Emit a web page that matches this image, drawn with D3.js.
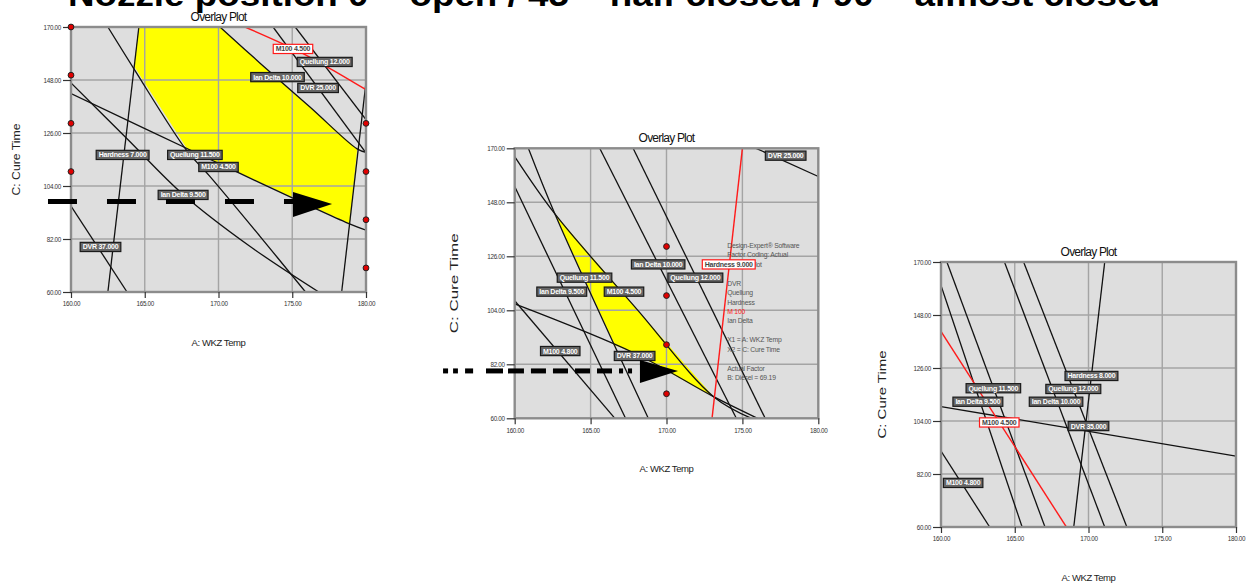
<!DOCTYPE html>
<html><head><meta charset="utf-8">
<script src="https://cdn.jsdelivr.net/npm/d3@7"></script>
<style>body{margin:0;background:#fff;overflow:hidden}svg{display:block;font-family:Arial,'Liberation Sans',sans-serif}</style>
</head><body><svg id="c" width="1247" height="583"></svg>
<script>
// ---------- text ----------
const headline = "Nozzle position 0 – open / 45 – half closed / 90 – almost closed";
const plotTitle = "Overlay Plot";
const xTitle = "A: WKZ Temp";
const yTitle = "C: Cure Time";
const xDomain = [160, 180];
const yDomain = [60, 170];
const xTicks = [160, 165, 170, 175, 180];
const yTicks = [60, 82, 104, 126, 148, 170];

// ---------- plot 1 (nozzle open) : [WKZ temp, cure time] ----------
const p1Hardness7   = [[164.6,170],[162.5,60]];
const p1M100a       = [[162.5,170],[164.3,152.3],[167.8,119.1],[169.4,108.1],[172.8,83.2],[175.9,60]];
const p1Quellung115 = [[160,142.4],[168.4,118.0],[178.8,88.5],[180,85.7]];
const p1IanDelta95  = [[160,146.8],[163.8,123.6],[167.6,100.5],[172.1,79.1],[176.8,60]];
const p1Dvr37       = [[160,95.7],[163.8,60]];
const p1IanDelta10  = [[170.1,170],[172.8,155.1],[176.2,136.8],[179.4,119.4],[180,118.0]];
const p1Dvr25       = [[173.7,170],[180,117.8]];
const p1Quellung12  = [[175.2,170],[180,131.6]];
const p1HardnessR   = [[180,147],[178.35,60]];
const p1M100Red     = [[171.8,170],[175.1,160.9],[177.3,153.7],[180,144.0]];
const p1Feasible    = [[164.6,170],[170.1,170],[172.8,155.1],[176.2,136.8],[179.4,119.3],[178.9,88.3],[168.4,118.0],[167.9,119.1],[164.3,153.5]];
const p1Design      = [[160,170],[160,150],[160,130],[160,110],[180,130],[180,110],[180,90],[180,70]];
const p1Labels = [
  ["Quellung 12.000",177.2,155.5],["Ian Delta 10.000",174.0,149.2],["DVR 25.000",176.75,144.7],
  ["Hardness 7.000",163.5,116.9],["Quellung 11.500",168.4,116.9],["M100 4.500",170.0,111.9],
  ["Ian Delta 9.500",167.6,100.3],["DVR 37.000",162.0,78.7]];
const p1RedLabels = [["M100 4.500",175.05,160.9]];
const p1Dashes = [[158.44,175.25]];
const p1ArrowTemps = [175.05,177.7];

// ---------- plot 2 (half closed) ----------
const p2Quellung115 = [[160.9,170],[162.65,143.25],[168.8,60]];
const p2M100a       = [[160,166.6],[162.65,143.25],[168.1,104.1],[173.1,68.8],[175.6,60]];
const p2M100b       = [[160,107.9],[166.6,60]];
const p2Dvr37       = [[160,106.6],[167.9,86.5],[173.1,68.8],[176.0,60]];
const p2IanDelta95  = [[160,154.4],[167.3,60]];
const p2IanDelta10  = [[165.6,170],[174.6,60]];
const p2Quellung12  = [[167.8,170],[176.5,60]];
const p2Dvr25       = [[175.9,170],[180,158.5]];
const p2Red         = [[175.0,170],[173.0,60]];
const p2Feasible    = [[162.65,143.25],[168.1,104.1],[173.1,68.8],[167.9,86.5],[166.6,89.8]];
const p2Design      = [[170,130],[170,110],[170,90],[170,70]];
const p2Labels = [
  ["DVR 25.000",177.85,167.0],["Ian Delta 10.000",169.45,122.7],["Quellung 12.000",171.9,117.3],
  ["Quellung 11.500",164.6,117.3],["Ian Delta 9.500",163.1,111.6],["M100 4.500",167.2,111.6],
  ["M100 4.800",163.0,87.4],["DVR 37.000",167.9,85.4]];
const p2RedLabels = [["Hardness 9.000",174.1,122.7]];
const p2Dashes = [[155.28,155.61],[155.94,156.26],[156.73,157.26],[158.11,159.23],[159.56,160.61],[161.07,162.06],[162.52,163.51],[163.97,164.96],[165.42,166.41],[166.87,167.14],[167.46,167.73]];
const p2ArrowTemps = [168.25,170.76];
const p2Legend = ["Design-Expert® Software","Factor Coding: Actual","Overlay Plot","","DVR","Quellung","Hardness","M 100","Ian Delta","","X1 = A: WKZ Temp","X2 = C: Cure Time","","Actual Factor","B: Diesel = 69.19"];

// ---------- plot 3 (almost closed) ----------
const p3IanDelta95  = [[160,160.3],[165.5,60]];
const p3Quellung115 = [[160.4,170],[167.05,60]];
const p3M100b       = [[160,91.5],[163.3,60]];
const p3Dvr35       = [[160,110.0],[180,89.4]];
const p3IanDelta10  = [[164.3,170],[171.1,60]];
const p3Quellung12  = [[165.6,170],[172.6,60]];
const p3Hardness8   = [[171.1,170],[169.0,60]];
const p3M100Red     = [[160,141.2],[168.5,60]];
const p3Labels = [
  ["Hardness 8.000",170.2,122.7],["Quellung 11.500",163.55,117.6],["Quellung 12.000",168.97,117.3],
  ["Ian Delta 9.500",162.5,112.0],["Ian Delta 10.000",167.8,112.0],["DVR 35.000",170.0,101.9],
  ["M100 4.800",161.5,78.3]];
const p3RedLabels = [["M100 4.500",163.95,103.4]];

// ---------- layout ----------
const panels = [
  {id:1,l:71,r:366,t:27,b:292,ylOff:54,ylLen:72,
   black:[p1Hardness7,p1M100a,p1Quellung115,p1IanDelta95,p1Dvr37,p1IanDelta10,p1Dvr25,p1Quellung12,p1HardnessR],
   red:[p1M100Red],region:p1Feasible,design:p1Design,labels:p1Labels,redLabels:p1RedLabels,
   dashes:p1Dashes,dashTime:97.6,dashArray:"29,30",arrow:p1ArrowTemps,arrowTimes:[101.5,91.1,96.5]},
  {id:2,l:514.7,r:818.3,t:148.3,b:418.3,ylOff:60,ylLen:100,
   black:[p2Quellung115,p2M100a,p2M100b,p2Dvr37,p2IanDelta95,p2IanDelta10,p2Quellung12,p2Dvr25],
   red:[p2Red],region:p2Feasible,design:p2Design,labels:p2Labels,redLabels:p2RedLabels,
   dashes:p2Dashes,dashTime:79.3,dashArray:null,arrow:p2ArrowTemps,arrowTimes:[83.8,74.4,79.3],legend:p2Legend},
  {id:3,l:941,r:1236,t:262,b:527,ylOff:58,ylLen:88,
   black:[p3IanDelta95,p3Quellung115,p3M100b,p3Dvr35,p3IanDelta10,p3Quellung12,p3Hardness8],
   red:[p3M100Red],region:null,design:[],labels:p3Labels,redLabels:p3RedLabels}
];

const svg = d3.select('#c');
svg.append('text').attr('x',68).attr('y',6).attr('font-size',34).attr('font-weight','bold')
  .attr('textLength',1092).attr('lengthAdjust','spacingAndGlyphs').attr('fill','#000').text(headline);

panels.forEach(p => {
  const sx = d3.scaleLinear().domain(xDomain).range([p.l,p.r]);
  const sy = d3.scaleLinear().domain(yDomain).range([p.b,p.t]);
  const g = svg.append('g');
  const cid = 'clip'+p.id;
  svg.append('clipPath').attr('id',cid).append('rect')
    .attr('x',p.l).attr('y',p.t).attr('width',p.r-p.l).attr('height',p.b-p.t);
  g.append('rect').attr('x',p.l).attr('y',p.t).attr('width',p.r-p.l).attr('height',p.b-p.t).attr('fill','#dedede');
  const inner = g.append('g').attr('clip-path',`url(#${cid})`);
  const area = d3.line().x(d=>sx(d[0])).y(d=>sy(d[1]));
  if (p.region) inner.append('path').attr('d',area(p.region)+'Z').attr('fill','#ffff00');
  // grid
  xTicks.slice(1,-1).forEach(v=>inner.append('line').attr('x1',sx(v)).attr('x2',sx(v)).attr('y1',p.t).attr('y2',p.b).attr('stroke','#a4a4a4').attr('stroke-width',1.4));
  yTicks.slice(1,-1).forEach(v=>inner.append('line').attr('y1',sy(v)).attr('y2',sy(v)).attr('x1',p.l).attr('x2',p.r).attr('stroke','#a4a4a4').attr('stroke-width',1.4));
  const curve = d3.line().x(d=>sx(d[0])).y(d=>sy(d[1])).curve(d3.curveCatmullRom.alpha(0.5));
  p.black.forEach(s=>inner.append('path').attr('d',curve(s)).attr('fill','none').attr('stroke','#111').attr('stroke-width',1.3));
  p.red.forEach(s=>inner.append('path').attr('d',curve(s)).attr('fill','none').attr('stroke','#ff1a1a').attr('stroke-width',1.4));
  // frame
  g.append('rect').attr('x',p.l).attr('y',p.t).attr('width',p.r-p.l).attr('height',p.b-p.t)
    .attr('fill','none').attr('stroke','#8c8c8c').attr('stroke-width',2.4);
  // axes
  const ax = g.append('g').attr('transform',`translate(0,${p.b})`)
    .call(d3.axisBottom(sx).tickValues(xTicks).tickFormat(d3.format('.2f')).tickSize(6).tickPadding(4));
  const ay = g.append('g').attr('transform',`translate(${p.l},0)`)
    .call(d3.axisLeft(sy).tickValues(yTicks).tickFormat(d3.format('.2f')).tickSize(8).tickPadding(2));
  [ax,ay].forEach(a=>{
    a.select('.domain').remove();
    a.selectAll('line').attr('stroke','#333').attr('stroke-width',1.2);
    a.selectAll('text').attr('font-size',6.3).attr('fill','#333').attr('letter-spacing',-0.3).attr('font-family','Arial,Liberation Sans,sans-serif');
  });
  // design points
  g.selectAll(null).data(p.design).join('circle').attr('cx',d=>sx(d[0])).attr('cy',d=>sy(d[1]))
    .attr('r',2.9).attr('fill','#e00000').attr('stroke','#222').attr('stroke-width',1);
  // legend
  if (p.legend) {
    const lg = g.append('g').attr('font-size',6.8).attr('fill','#555');
    p.legend.forEach((s,i)=>{ if(!s) return;
      lg.append('text').attr('x',p.l+212.5).attr('y',p.t+99.5+i*9.45)
        .attr('fill', s==='M 100' ? '#ff2020' : '#555').attr('letter-spacing',-0.2).text(s);
    });
  }
  // contour labels
  const drawLabel = (d, red) => {
    const lab = g.append('g');
    const t = lab.append('text').attr('x',sx(d[1])).attr('y',sy(d[2])+2.5).attr('text-anchor','middle')
      .attr('font-size',7).attr('font-weight','bold').attr('letter-spacing',-0.25)
      .attr('fill', red ? '#444' : '#fff').text(d[0]);
    const w = t.node().getComputedTextLength()+5;
    lab.insert('rect','text').attr('x',sx(d[1])-w/2).attr('y',sy(d[2])-4.6).attr('width',w).attr('height',9.2)
      .attr('fill', red ? '#fff' : '#666').attr('stroke', red ? '#ff1a1a' : '#1a1a1a').attr('stroke-width',1.2);
  };
  p.labels.forEach(d=>drawLabel(d,false));
  p.redLabels.forEach(d=>drawLabel(d,true));
  // nozzle arrow annotation
  if (p.dashes) {
    const yy = sy(p.dashTime);
    p.dashes.forEach(d=>{
      g.append('line').attr('x1',sx(d[0])).attr('x2',sx(d[1])).attr('y1',yy).attr('y2',yy)
        .attr('stroke','#000').attr('stroke-width',5).attr('stroke-dasharray',p.dashArray);
    });
    const [bx,tx] = p.arrow; const [ya,yb,yt] = p.arrowTimes;
    g.append('path').attr('d',`M${sx(bx)},${sy(ya)}L${sx(tx)},${sy(yt)}L${sx(bx)},${sy(yb)}Z`).attr('fill','#000');
  }
  // titles
  const cx = (p.l+p.r)/2, cy = (p.t+p.b)/2;
  g.append('text').attr('x',cx).attr('y',p.t-6).attr('text-anchor','middle').attr('font-size',12)
    .attr('letter-spacing',-0.8).attr('fill','#111').text(plotTitle);
  g.append('text').attr('x',cx).attr('y',p.b+54).attr('text-anchor','middle').attr('font-size',9.5)
    .attr('letter-spacing',-0.4).attr('fill','#222').text(xTitle);
  g.append('text').attr('transform',`translate(${p.l-p.ylOff+3},${cy}) rotate(-90)`).attr('text-anchor','middle')
    .attr('font-size',10).attr('textLength',p.ylLen).attr('lengthAdjust','spacingAndGlyphs').attr('fill','#222').text(yTitle);
});
</script></body></html>
